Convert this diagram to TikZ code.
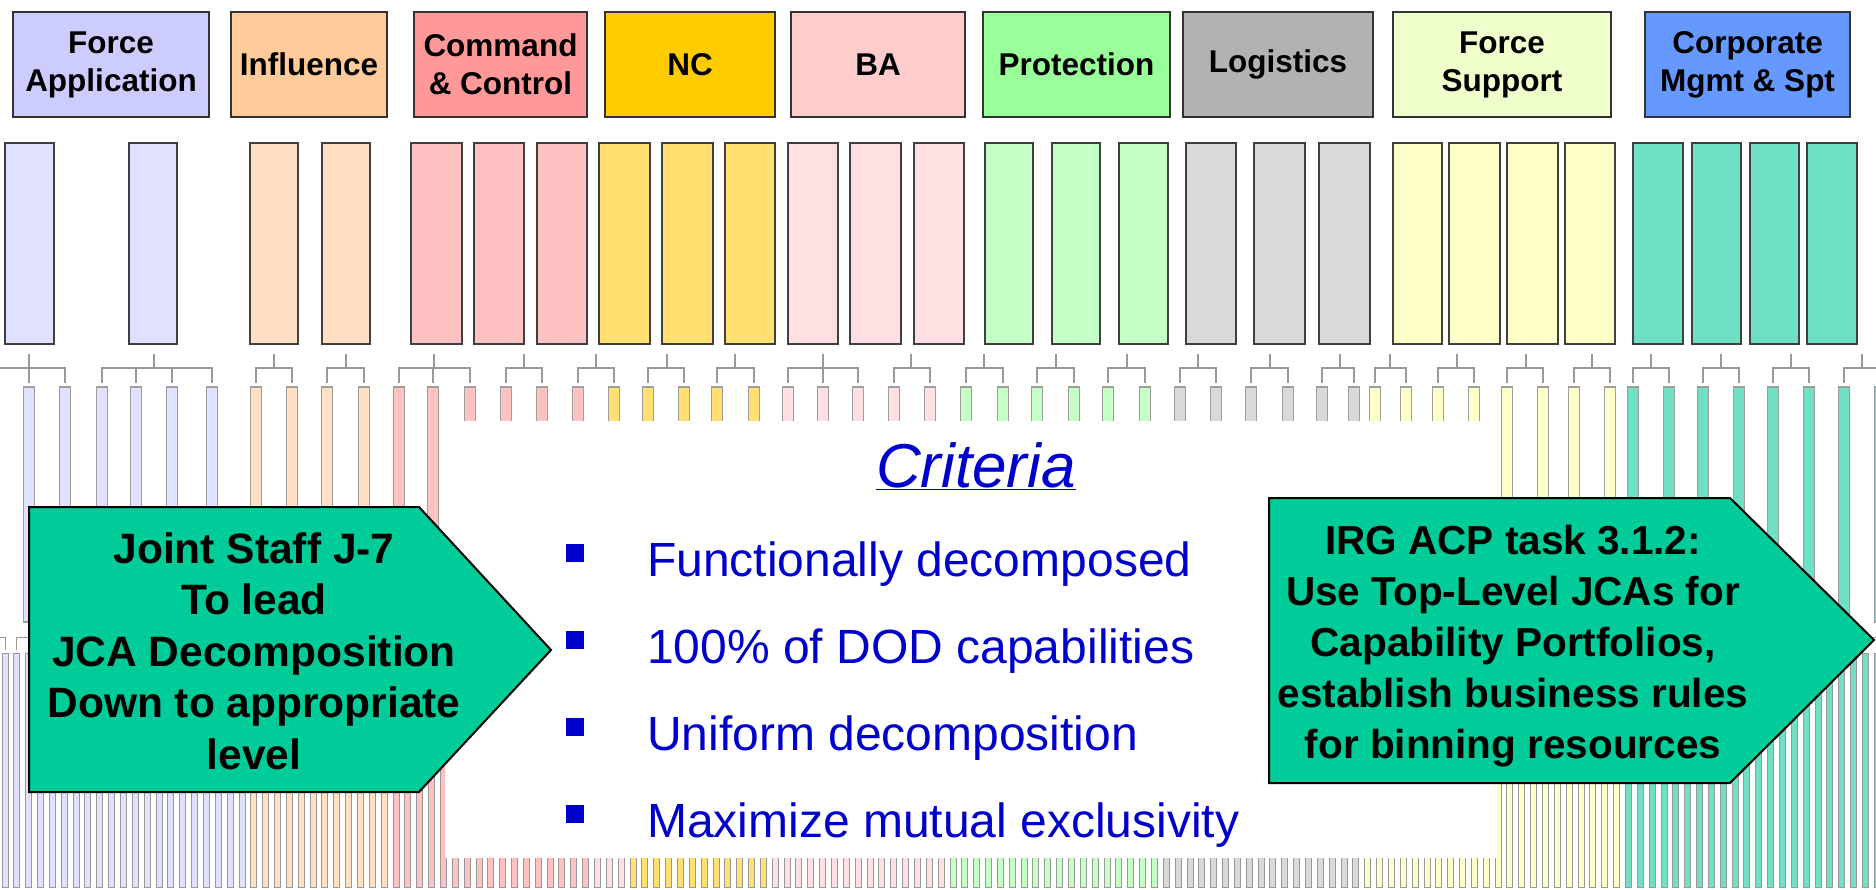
\documentclass[tikz,border=0pt]{standalone}
\usepackage{fontspec}
\setmainfont{Liberation Sans}
\usepackage{tikz}
\usetikzlibrary{positioning}
\definecolor{appl}{HTML}{CCCCFF}
\definecolor{applbar}{HTML}{E0E0FF}
\definecolor{infl}{HTML}{FFCC99}
\definecolor{inflbar}{HTML}{FFE0C2}
\definecolor{cmd}{HTML}{FF9999}
\definecolor{cmdbar}{HTML}{FFC2C2}
\definecolor{netc}{HTML}{FFCC00}
\definecolor{netcbar}{HTML}{FFE070}
\definecolor{batt}{HTML}{FFCCCC}
\definecolor{battbar}{HTML}{FFE0E2}
\definecolor{prot}{HTML}{99FF99}
\definecolor{protbar}{HTML}{C6FFC6}
\definecolor{logi}{HTML}{B2B2B2}
\definecolor{logibar}{HTML}{D9D9D9}
\definecolor{fsup}{HTML}{EEFFCC}
\definecolor{fsupbar}{HTML}{FFFFC8}
\definecolor{corp}{HTML}{6699FF}
\definecolor{corpbar}{HTML}{70E0C4}
\definecolor{jcagreen}{HTML}{00CC99}
\definecolor{critblue}{HTML}{0000CC}
\newcommand{\headfont}{\bfseries\fontsize{31.5}{38}\selectfont}
\newcommand{\jcafont}{\bfseries\fontsize{42.5}{51.5}\selectfont}
\newcommand{\taskfont}{\bfseries\fontsize{40.5}{51}\selectfont}
\newcommand{\titlefont}{\itshape\fontsize{62}{72}\selectfont}
\newcommand{\critfont}{\fontsize{48}{56}\selectfont}

\begin{document}
\begin{tikzpicture}[
    x=1pt, y=-1pt,
    headbox/.style={draw=black!80, line width=2pt, minimum height=105pt, align=center, font=\headfont, inner sep=0pt},
    midbar/.style={draw=black!75, line width=1.5pt},
    leaf/.style={draw=black!38, line width=1.5pt},
    twig/.style={draw=black!40, line width=1pt},
    stem/.style={draw=black!40, line width=1.5pt},
    jcabox/.style={draw=black, line width=2pt, fill=jcagreen},
    jcatext/.style={font=\jcafont, align=center},
    bullet/.style={fill=critblue, minimum size=18pt, inner sep=0pt},
    crit/.style={font=\critfont, text=critblue, anchor=base west, inner sep=0pt}
]
    % Background
    \useasboundingbox (0,0) rectangle (1876,890);
    \clip (0,0) rectangle (1876,890);
    \fill[white] (0,0) rectangle (1876,890);

    % Top-level JCAs
    \node[headbox, fill=appl, minimum width=196pt] (fapp) at (111,64.5) {Force\\Application};
    \node[headbox, fill=infl, minimum width=156pt] (infl) at (309,64.5) {Influence};
    \node[headbox, fill=cmd, minimum width=173pt] (ctrl) at (500.5,64.5) {Command\\\& Control};
    \node[headbox, fill=netc, minimum width=170pt] (nc) at (690,64.5) {NC};
    \node[headbox, fill=batt, minimum width=174pt] (ba) at (878,64.5) {BA};
    \node[headbox, fill=prot, minimum width=187pt] (prot) at (1076.5,64.5) {Protection};
    \node[headbox, fill=logi, minimum width=190pt] (logi) at (1278,64.5) {Logistics};
    \node[headbox, fill=fsup, minimum width=218pt] (fsup) at (1502,64.5) {Force\\Support};
    \node[headbox, fill=corp, minimum width=205pt] (corp) at (1747.5,64.5) {Corporate\\Mgmt \& Spt};

    % Second tier
    \foreach \xa/\xb/\c in {5/54/applbar, 129/177/applbar, 250/298/inflbar, 322/370/inflbar,
        411/462/cmdbar, 474/524/cmdbar, 537/587/cmdbar, 599/650/netcbar, 662/713/netcbar,
        725/775/netcbar, 788/838/battbar, 850/901/battbar, 914/964/battbar, 985/1033/protbar,
        1052/1100/protbar, 1119/1168/protbar, 1186/1236/logibar, 1254/1305/logibar,
        1319/1370/logibar, 1393/1442/fsupbar, 1449/1500/fsupbar, 1507/1558/fsupbar,
        1565/1615/fsupbar, 1633/1683/corpbar, 1692/1741/corpbar, 1750/1799/corpbar,
        1807/1857/corpbar}
        \draw[midbar, fill=\c] (\xa,143) rectangle (\xb,344);

    % Third tier brackets
    \foreach \t/\kids in {29/{-7,29,65}, 154/{102,136,172,212}, 274/{256,292}, 346/{327,364},
        434/{399,433,470}, 524/{506,542}, 596/{578,614}, 667/{648,684}, 735/{717,754},
        823/{788,823,858}, 911/{894,930}, 984/{966,1003}, 1056/{1037,1074}, 1127/{1108,1145},
        1198/{1180,1216}, 1270/{1251,1288}, 1340/{1322,1354}, 1390/{1375,1406},
        1457/{1438,1474}, 1526/{1507,1543}, 1592/{1574,1610}, 1651/{1633,1669},
        1721/{1703,1739}, 1791/{1773,1809}, 1862/{1844,1880}} {
        \draw[stem] (\t,354) -- (\t,368);
        \foreach \k in \kids {
            \draw[stem] (\t,368) -- (\k,368) -- (\k,383);
        }
    }

    % Third tier bars
    \foreach \k/\c in {-7/applbar, 29/applbar, 65/applbar, 102/applbar, 136/applbar,
        172/applbar, 212/applbar, 256/inflbar, 292/inflbar, 327/inflbar, 364/inflbar,
        399/cmdbar, 433/cmdbar, 470/cmdbar, 506/cmdbar, 542/cmdbar, 578/cmdbar,
        614/netcbar, 648/netcbar, 684/netcbar, 717/netcbar, 754/netcbar,
        788/battbar, 823/battbar, 858/battbar, 894/battbar, 930/battbar,
        966/protbar, 1003/protbar, 1037/protbar, 1074/protbar, 1108/protbar, 1145/protbar,
        1180/logibar, 1216/logibar, 1251/logibar, 1288/logibar, 1322/logibar, 1354/logibar,
        1375/fsupbar, 1406/fsupbar, 1438/fsupbar, 1474/fsupbar, 1507/fsupbar,
        1543/fsupbar, 1574/fsupbar, 1610/fsupbar, 1633/corpbar, 1669/corpbar,
        1703/corpbar, 1739/corpbar, 1773/corpbar, 1809/corpbar, 1844/corpbar, 1880/corpbar}
        \draw[leaf, fill=\c] (\k-5.5,387) rectangle (\k+5.5,622);

    % Fourth tier brackets
    \foreach \k in {0,...,53} {
        \pgfmathsetmacro{\xl}{5+11.85*(3*\k-2)}
        \pgfmathsetmacro{\xm}{5+11.85*(3*\k-1)}
        \pgfmathsetmacro{\xr}{5+11.85*(3*\k)}
        \draw[twig] (\xm,629) -- (\xm,650) (\xl,650) -- (\xl,637) -- (\xr,637) -- (\xr,650);
    }

    % Fourth tier bars
    \foreach \a/\b/\c in {0/20/applbar, 21/32/inflbar, 33/49/cmdbar, 50/52/battbar,
        53/64/netcbar, 65/79/battbar, 80/97/protbar, 98/114/logibar, 115/136/fsupbar,
        137/158/corpbar}
        \foreach \i in {\a,...,\b}
            \draw[twig, fill=\c] ({2+11.85*\i},653) rectangle ({8+11.85*\i},887);

    % Criteria panel
    \fill[white] (445,421) rectangle (1497,858);
    \node[font=\titlefont, text=critblue, anchor=base, inner sep=0pt] (title) at (976,487) {\underline{Criteria}};

    \foreach \i/\yb/\txt in {1/576/Functionally decomposed, 2/663/100\% of DOD capabilities,
        3/750/Uniform decomposition, 4/837/Maximize mutual exclusivity} {
        \node[bullet] (b\i) at (575,\yb-23) {};
        \node[crit] (c\i) at (647,\yb) {\txt};
    }

    % Left arrow box
    \draw[jcabox] (29,507) -- (419,507) -- (551,650) -- (419,792) -- (29,792) -- cycle;
    \node[jcatext] (lead) at (254,651) {Joint Staff J-7\\To lead\\JCA Decomposition\\Down to appropriate\\level};

    % Right arrow box
    \draw[jcabox] (1269,498) -- (1730,498) -- (1874,640) -- (1730,783) -- (1269,783) -- cycle;
    \node[jcatext, font=\taskfont] (task) at (1513,646) {IRG ACP task 3.1.2:\\Use Top-Level JCAs for\\Capability Portfolios,\\establish business rules\\for binning resources};
\end{tikzpicture}
\end{document}
